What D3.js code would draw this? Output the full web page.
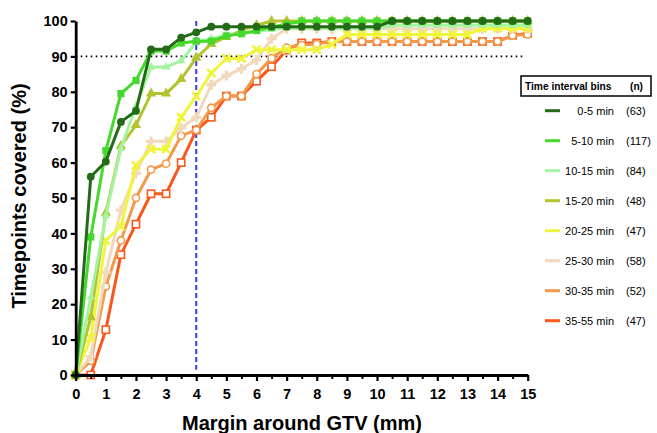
<!DOCTYPE html>
<html>
<head>
<meta charset="utf-8">
<script src="https://cdn.jsdelivr.net/npm/d3@7"></script>
<style>
    body { margin: 0; background: #fff; }
    text { font-family: "Liberation Sans", Arial, sans-serif; }
</style>
</head>
<body>
<div id="chart"></div>
<script>

// margin around GTV (mm)
let marginMM = [0, 0.5, 1, 1.5, 2, 2.5, 3, 3.5, 4, 4.5, 5, 5.5, 6, 6.5, 7, 7.5, 8, 8.5, 9, 9.5,
    10, 10.5, 11, 11.5, 12, 12.5, 13, 13.5, 14, 14.5, 15];

let bins = ['0-5 min', '5-10 min', '10-15 min', '15-20 min', '20-25 min', '25-30 min', '30-35 min', '35-55 min'];
let counts = ['(63)', '(117)', '(84)', '(48)', '(47)', '(58)', '(52)', '(47)'];

// timepoints covered (%) per bin
let cov0to5 = [0, 56, 60.3, 71.5, 74.6, 92, 92, 95.3, 96.8, 98.4, 98.4, 98.4, 98.4, 98.4, 98.4, 98.4,
    98.4, 98.4, 98.4, 98.4, 98.4, 100, 100, 100, 100, 100, 100, 100, 100, 100, 100];
let cov5to10 = [0, 39, 63.4, 79.5, 83.2, 91.5, 91.5, 93.8, 94.3, 94.3, 95.8, 96.4, 97.3, 98.3, 99.1, 100,
    100, 100, 100, 100, 100, 100, 100, 100, 100, 100, 100, 100, 100, 100, 100];
let cov10to15 = [0, 22, 45, 64, 76, 87, 87, 88.8, 94, 95, 96, 96.5, 97, 97.6, 98, 98,
    98, 98, 98, 98, 98, 98.8, 98.8, 98.8, 98.8, 98.8, 98.8, 98.8, 98.8, 98.8, 98.8];
let cov15to20 = [0, 16.3, 45.8, 64.7, 70.6, 79.5, 79.5, 83.6, 89.6, 93.5, 95.5, 97.3, 98.8, 100, 100, 100,
    100, 100, 100, 100, 100, 100, 100, 100, 100, 100, 100, 100, 100, 100, 100];
let cov20to25 = [0, 10.5, 38, 42, 59.2, 63.8, 63.8, 72.8, 78.8, 85.3, 89.4, 89.4, 91.9, 91.9, 91.9, 91.9,
    91.9, 93.4, 96.2, 96.2, 96.2, 96.2, 96.2, 96.2, 96.2, 96.2, 96.2, 97.9, 97.9, 97.9, 97.9];
let cov25to30 = [0, 5.2, 29, 46.6, 57, 66, 66, 69.8, 72.8, 82, 84.6, 86.5, 89, 95, 97.8, 97.8,
    97.8, 97.8, 97.8, 97.8, 97.8, 97.8, 97.8, 97.8, 97.8, 97.8, 97.8, 97.8, 97.8, 97.8, 97.8];
let cov30to35 = [0, 4, 25, 38, 50, 58, 59.7, 67.6, 69.2, 75.5, 78.8, 78.8, 85, 89.5, 92.5, 93.2,
    93.5, 94.2, 94.2, 94.2, 94.2, 94.2, 94.2, 94.2, 94.2, 94.2, 94.2, 94.2, 94.2, 95.9, 96.2];
let cov35to55 = [0, 0, 12.8, 34, 42.6, 51.2, 51.2, 60, 69.2, 72.8, 78.8, 78.8, 83, 87.1, 91.8, 93.8,
    93.8, 94.2, 94.2, 94.2, 94.2, 94.2, 94.2, 94.2, 94.2, 94.2, 94.2, 94.2, 94.2, 96, 96.5];

let xTicks = [0, 1, 2, 3, 4, 5, 6, 7, 8, 9, 10, 11, 12, 13, 14, 15];
let xMinorTicks = [0.5, 1.5, 2.5, 3.5, 4.5, 5.5, 6.5, 7.5, 8.5, 9.5, 10.5, 11.5, 12.5, 13.5, 14.5];
let yTicks = [0, 10, 20, 30, 40, 50, 60, 70, 80, 90, 100];

let allSeries = [cov0to5, cov5to10, cov10to15, cov15to20, cov20to25, cov25to30, cov30to35, cov35to55];

// styles per bin
let colors = ['#236b17', '#46d82c', '#a3f3a0', '#b5c330', '#f0f53c', '#f2d9bd', '#f2994b', '#f9571c'];
let markers = ['circle', 'square', 'triangle', 'triangle', 'x', 'cross', 'ocircle', 'osquare'];

let width = 657, height = 433;

let svg = d3.select('#chart').append('svg')
    .attr('width', width)
    .attr('height', height);

let x = d3.scaleLinear().domain([0, 15]).range([75.7, 527.7]);
let y = d3.scaleLinear().domain([0, 100]).range([375, 21]);

// reference lines
svg.append('line')
    .attr('x1', x(0)).attr('x2', x(14.85))
    .attr('y1', y(90)).attr('y2', y(90))
    .attr('stroke', '#000')
    .attr('stroke-width', 1.6)
    .attr('stroke-dasharray', '1.6,3.4');

svg.append('line')
    .attr('x1', x(4)).attr('x2', x(4))
    .attr('y1', y(100)).attr('y2', y(1.5))
    .attr('stroke', '#3a3af5')
    .attr('stroke-width', 2)
    .attr('stroke-dasharray', '5,3');

// series, last bin first so 0-5 min ends on top
let line = d3.line()
    .x((d, i) => x(marginMM[i]))
    .y(d => y(d));

let order = d3.range(allSeries.length).reverse();

order.forEach(k => {
    let data = allSeries[k];
    let g = svg.append('g').attr('class', 'series');

    g.append('path')
        .datum(data)
        .attr('d', line)
        .attr('fill', 'none')
        .attr('stroke', colors[k])
        .attr('stroke-width', 3)
        .attr('stroke-linejoin', 'round');

    let pts = g.selectAll('.pt')
        .data(data)
        .enter().append('g')
        .attr('transform', (d, i) => `translate(${x(marginMM[i])},${y(d)})`);

    let m = markers[k];
    if (m === 'circle') {
        pts.append('circle').attr('r', 3.9).attr('fill', colors[k]);
    } else if (m === 'square') {
        pts.append('rect').attr('x', -3.6).attr('y', -3.6).attr('width', 7.2).attr('height', 7.2)
            .attr('fill', colors[k]);
    } else if (m === 'triangle') {
        pts.append('path').attr('d', d3.symbol(d3.symbolTriangle, k === 2 ? 32 : 46)())
            .attr('fill', colors[k]);
    } else if (m === 'x') {
        pts.append('path').attr('d', 'M-4,-4L4,4M-4,4L4,-4')
            .attr('stroke', colors[k]).attr('stroke-width', 2.6);
    } else if (m === 'cross') {
        pts.append('path').attr('d', d3.symbol(d3.symbolCross, 55)())
            .attr('fill', colors[k]);
    } else if (m === 'ocircle') {
        pts.append('circle').attr('r', 3.6).attr('fill', '#fff')
            .attr('stroke', colors[k]).attr('stroke-width', 1.6);
    } else {
        pts.append('rect').attr('x', -3.6).attr('y', -3.6).attr('width', 7.2).attr('height', 7.2)
            .attr('fill', '#fff').attr('stroke', colors[k]).attr('stroke-width', 1.6);
    }
});

// axes
let xAxis = d3.axisBottom(x).tickValues(xTicks).tickSize(6).tickSizeOuter(0).tickPadding(8)
    .tickFormat(d3.format('d'));
let xMinor = d3.axisBottom(x).tickValues(xMinorTicks).tickSize(4).tickFormat('');
let yAxis = d3.axisLeft(y).tickValues(yTicks).tickSize(5).tickSizeOuter(0).tickPadding(3);

svg.append('g')
    .attr('transform', `translate(0,${y(0)})`)
    .call(xMinor)
    .call(g => g.select('.domain').remove())
    .call(g => g.selectAll('line').attr('stroke-width', 2));

svg.append('g')
    .attr('class', 'x-axis')
    .attr('transform', `translate(0,${y(0)})`)
    .call(xAxis);

svg.append('g')
    .attr('class', 'y-axis')
    .attr('transform', `translate(${x(0)},0)`)
    .call(yAxis);

svg.selectAll('.x-axis, .y-axis')
    .call(g => g.select('.domain').attr('stroke-width', 2.8))
    .call(g => g.selectAll('.tick line').attr('stroke-width', 2.2))
    .call(g => g.selectAll('.tick text')
        .style('font-family', '"Liberation Sans", Arial, sans-serif')
        .style('font-size', '14.5px')
        .style('font-weight', 'bold')
        .attr('fill', '#000'));

// axis titles
svg.append('text')
    .attr('x', 302)
    .attr('y', 430)
    .attr('text-anchor', 'middle')
    .style('font-size', '20px')
    .style('font-weight', 'bold')
    .text('Margin around GTV (mm)');

svg.append('text')
    .attr('transform', 'translate(26,196) rotate(-90)')
    .attr('text-anchor', 'middle')
    .style('font-size', '20px')
    .style('font-weight', 'bold')
    .text('Timepoints covered (%)');

// legend
let legend = svg.append('g').attr('class', 'legend');

legend.append('rect')
    .attr('x', 521).attr('y', 76)
    .attr('width', 130).attr('height', 20)
    .attr('fill', '#fff')
    .attr('stroke', '#000')
    .attr('stroke-width', 1.5);

legend.append('text')
    .attr('x', 525).attr('y', 90)
    .style('font-size', '10.2px')
    .style('font-weight', 'bold')
    .text('Time interval bins');

legend.append('text')
    .attr('x', 630).attr('y', 90)
    .style('font-size', '10.2px')
    .style('font-weight', 'bold')
    .text('(n)');

let items = legend.selectAll('.item')
    .data(bins)
    .enter().append('g')
    .attr('class', 'item')
    .attr('transform', (d, i) => `translate(0,${110.7 + i * 30})`);

items.append('line')
    .attr('x1', 545).attr('x2', 560)
    .attr('y1', 0).attr('y2', 0)
    .attr('stroke', (d, i) => colors[i])
    .attr('stroke-width', 3);

items.append('text')
    .attr('x', 614).attr('y', 4)
    .attr('text-anchor', 'end')
    .style('font-size', '11px')
    .text(d => d);

items.append('text')
    .attr('x', 626).attr('y', 4)
    .style('font-size', '11px')
    .text((d, i) => counts[i]);

</script>
</body>
</html>
